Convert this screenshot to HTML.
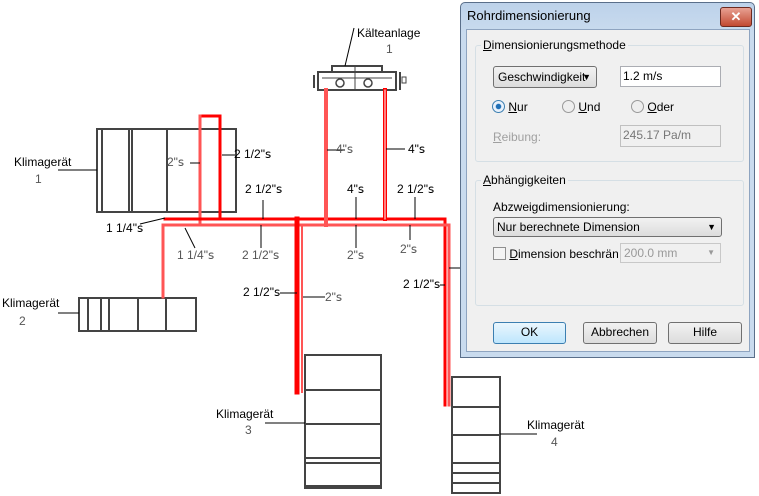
<!DOCTYPE html>
<html><head><meta charset="utf-8"><style>
body{margin:0;width:759px;height:496px;background:#fff;overflow:hidden;position:relative;font-family:"Liberation Sans",sans-serif}
svg{position:absolute;left:0;top:0}
.t{font-family:"Liberation Sans",sans-serif;font-size:12px;fill:#000}
.g{fill:#555}
.d{position:absolute;font-size:12px;color:#000;white-space:nowrap}
.box{position:absolute;border:1px solid #abadb3;background:#fff;white-space:nowrap}
.btn{position:absolute;border:1px solid #707070;border-radius:3px;background:linear-gradient(#f2f2f2,#dcdcdc);text-align:center;line-height:19px;font-size:12px}
</style></head><body>
<svg width="759" height="496" viewBox="0 0 759 496">
<g fill="none" stroke="#444" stroke-width="2">
 <rect x="97" y="129" width="139" height="83"/>
 <line x1="102" y1="129" x2="102" y2="212"/><line x1="129" y1="129" x2="129" y2="212"/><line x1="132" y1="129" x2="132" y2="212"/><line x1="167" y1="129" x2="167" y2="212"/>
 <rect x="79" y="298" width="117" height="33"/>
 <line x1="88" y1="298" x2="88" y2="331"/><line x1="101" y1="298" x2="101" y2="331"/><line x1="109" y1="298" x2="109" y2="331"/><line x1="138" y1="298" x2="138" y2="331"/><line x1="166" y1="298" x2="166" y2="331"/>
 <rect x="305" y="355" width="76" height="133"/>
 <line x1="305" y1="390" x2="381" y2="390"/><line x1="305" y1="424" x2="381" y2="424"/><line x1="305" y1="458" x2="381" y2="458"/><line x1="305" y1="463" x2="381" y2="463"/><line x1="305" y1="486" x2="381" y2="486"/>
 <rect x="452" y="377" width="48" height="116"/>
 <line x1="452" y1="407" x2="500" y2="407"/><line x1="452" y1="435" x2="500" y2="435"/><line x1="452" y1="463" x2="500" y2="463"/><line x1="452" y1="473" x2="500" y2="473"/><line x1="452" y1="483" x2="500" y2="483"/>
 <rect x="318" y="72" width="78" height="18"/>
 <rect x="332" y="66" width="50" height="6"/>
 <line x1="314" y1="75" x2="314" y2="88"/><line x1="400" y1="72" x2="400" y2="90"/>
 <circle cx="340" cy="83" r="4" stroke-width="1.5"/><circle cx="368" cy="83" r="4" stroke-width="1.5"/>
 <line x1="322" y1="78" x2="392" y2="78" stroke-width="1"/><line x1="355" y1="66" x2="355" y2="90" stroke-width="1"/>
 <rect x="402" y="77" width="4" height="6" stroke-width="1"/>
</g>
<g fill="none" stroke-linecap="square">
 <path d="M220 219V116H200V225" stroke="#f00" stroke-width="3"/>
 <path d="M200 116V225" stroke="#f55" stroke-width="3"/>
 <path d="M165 219H445V405" stroke="#f00" stroke-width="3"/>
 <path d="M163 297V225H449V405" stroke="#f55" stroke-width="3"/>
 <path d="M297 219V392" stroke="#f00" stroke-width="5"/>
 <path d="M302 225V392" stroke="#f55" stroke-width="2"/>
 <path d="M326 225V90" stroke="#f55" stroke-width="4"/>
 <path d="M385 219V90" stroke="#f00" stroke-width="4"/>
 <path d="M385 219V90" stroke="#fff" stroke-width="1"/>
</g>
<g stroke="#000" stroke-width="1">
 <line x1="58" y1="170" x2="97" y2="170"/><line x1="58" y1="313" x2="79" y2="313"/>
 <line x1="265" y1="423" x2="305" y2="423"/><line x1="500" y1="434" x2="537" y2="434"/>
 <line x1="140" y1="224" x2="165" y2="218"/><line x1="185" y1="228" x2="195" y2="248"/>
 <line x1="263" y1="200" x2="263" y2="219"/><line x1="261" y1="225" x2="261" y2="248"/>
 <line x1="356" y1="197" x2="356" y2="219"/><line x1="356" y1="225" x2="356" y2="248"/>
 <line x1="415" y1="197" x2="415" y2="219"/><line x1="410" y1="225" x2="410" y2="240"/>
 <line x1="190" y1="163" x2="200" y2="163"/><line x1="222" y1="155" x2="235" y2="155"/>
 <line x1="327" y1="150" x2="345" y2="150"/><line x1="386" y1="149" x2="405" y2="149"/>
 <line x1="280" y1="293" x2="297" y2="293"/><line x1="303" y1="297" x2="325" y2="297"/>
 <line x1="440" y1="285" x2="445" y2="285"/><line x1="449" y1="268" x2="460" y2="268"/>
 <line x1="354" y1="28" x2="345" y2="66"/>
</g>
<g class="t">
 <text x="14" y="166">Klimagerät</text><text x="35" y="183" class="t g">1</text>
 <text x="2" y="307">Klimagerät</text><text x="19" y="325" class="t g">2</text>
 <text x="216" y="418">Klimagerät</text><text x="245" y="434" class="t g">3</text>
 <text x="527" y="429">Klimagerät</text><text x="551" y="446" class="t g">4</text>
 <text x="357" y="37">Kälteanlage</text><text x="386" y="53" class="t g">1</text>
 <text x="167" y="166" class="t g">2"ꜱ</text>
 <text x="234" y="158">2 1/2"ꜱ</text>
 <text x="336" y="153" class="t g">4"ꜱ</text>
 <text x="408" y="153">4"ꜱ</text>
 <text x="245" y="193">2 1/2"ꜱ</text>
 <text x="347" y="193">4"ꜱ</text>
 <text x="397" y="193">2 1/2"ꜱ</text>
 <text x="106" y="232">1 1/4"ꜱ</text>
 <text x="177" y="259" class="t g">1 1/4"ꜱ</text>
 <text x="242" y="259" class="t g">2 1/2"ꜱ</text>
 <text x="347" y="259" class="t g">2"ꜱ</text>
 <text x="400" y="253" class="t g">2"ꜱ</text>
 <text x="243" y="296">2 1/2"ꜱ</text>
 <text x="325" y="301" class="t g">2"ꜱ</text>
 <text x="403" y="288">2 1/2"ꜱ</text>
</g>
</svg>
<div style="position:absolute;left:460px;top:2px;width:293px;height:354px;border:1px solid #5a6f8a;border-radius:5px 5px 0 0;background:linear-gradient(#bdd2ea,#c9dbee 30px);"></div>
<div class="d" style="left:467px;top:8px;font-size:13px">Rohrdimensionierung</div>
<div style="position:absolute;left:720px;top:7px;width:30px;height:18px;border:1px solid #6d2a20;border-radius:3px;background:linear-gradient(#e8a193,#c24a32);color:#fff;font-weight:bold;text-align:center;line-height:17px;font-size:13px">✕</div>
<div style="position:absolute;left:466px;top:29px;width:282px;height:321px;background:#f0f0f0;border:1px solid #8ea4c0"></div>
<div style="position:absolute;left:475px;top:45px;width:267px;height:115px;border:1px solid #d5dfe5;border-radius:3px"></div>
<div class="d" style="left:481px;top:38px;background:#f0f0f0;padding:0 2px"><u>D</u>imensionierungsmethode</div>
<div style="position:absolute;left:493px;top:66px;width:104px;height:22px;border:1px solid #707070;border-radius:3px;background:linear-gradient(#f2f2f2,#dcdcdc);font-size:12px;line-height:20px;padding-left:4px;box-sizing:border-box;white-space:nowrap">Geschwindigkeit<span style="position:absolute;right:5px;font-size:9px">▼</span></div>
<div class="box" style="left:620px;top:66px;width:101px;height:21px;font-size:12px;line-height:18px;padding-left:2px;box-sizing:border-box">1.2 m/s</div>
<div class="d" style="left:492px;top:100px"><span style="display:inline-block;width:11px;height:11px;border-radius:50%;border:1px solid #3c7fb1;background:radial-gradient(#1e6fb7 30%,#e8f1fb 40%);vertical-align:-2px"></span> <u>N</u>ur</div>
<div class="d" style="left:562px;top:100px"><span style="display:inline-block;width:11px;height:11px;border-radius:50%;border:1px solid #999;background:#eee;vertical-align:-2px"></span> <u>U</u>nd</div>
<div class="d" style="left:631px;top:100px"><span style="display:inline-block;width:11px;height:11px;border-radius:50%;border:1px solid #999;background:#eee;vertical-align:-2px"></span> <u>O</u>der</div>
<div class="d" style="left:493px;top:130px;color:#a0a0a0"><u>R</u>eibung:</div>
<div class="box" style="left:620px;top:125px;width:101px;height:22px;background:#f0f0f0;border-color:#c0c0c0;color:#777;font-size:12px;line-height:18px;padding-left:2px;box-sizing:border-box">245.17 Pa/m</div>
<div style="position:absolute;left:475px;top:180px;width:267px;height:124px;border:1px solid #d5dfe5;border-radius:3px"></div>
<div class="d" style="left:481px;top:173px;background:#f0f0f0;padding:0 2px"><u>A</u>bhängigkeiten</div>
<div class="d" style="left:493px;top:200px">Abzweigdimensionierung:</div>
<div style="position:absolute;left:493px;top:217px;width:229px;height:20px;border:1px solid #707070;border-radius:3px;background:linear-gradient(#f2f2f2,#dcdcdc);font-size:12px;line-height:19px;padding-left:3px;box-sizing:border-box">Nur berechnete Dimension<span style="position:absolute;right:5px;font-size:9px">▼</span></div>
<div class="d" style="left:493px;top:247px;width:125px;overflow:hidden"><span style="display:inline-block;width:11px;height:11px;border:1px solid #8f8f8f;background:#f4f4f4;vertical-align:-2px"></span> <u>D</u>imension beschränkt</div>
<div class="box" style="left:620px;top:243px;width:101px;height:20px;background:#f0f0f0;border-color:#c8c8c8;color:#999;font-size:12px;line-height:18px;padding-left:3px;box-sizing:border-box">200.0 mm<span style="position:absolute;right:5px;font-size:8px">▼</span></div>
<div class="btn" style="left:493px;top:322px;width:71px;height:20px;border-color:#3c7fb1;background:linear-gradient(#eaf6fd,#bee6fd)">OK</div>
<div class="btn" style="left:583px;top:322px;width:72px;height:20px">Abbrechen</div>
<div class="btn" style="left:668px;top:322px;width:72px;height:20px">Hilfe</div>
</body></html>
